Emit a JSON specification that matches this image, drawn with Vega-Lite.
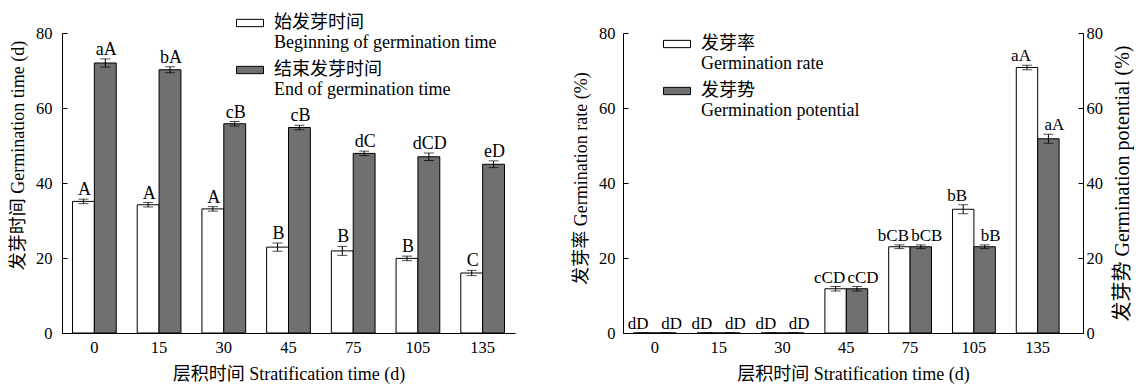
{
  "$schema": "https://vega.github.io/schema/vega-lite/v6.json",
  "background": "white",
  "padding": {"left": 9, "top": 9, "right": 5, "bottom": 4},
  "bounds": "flush",
  "spacing": 108,
  "resolve": {
    "scale": {"x": "independent", "xOffset": "independent", "y": "independent", "color": "independent"},
    "legend": {"color": "independent"}
  },
  "config": {
    "font": "Liberation Serif, Noto Sans CJK SC",
    "view": {"stroke": null},
    "axis": {
      "domainColor": "black", "domainWidth": 1, "tickColor": "black", "tickWidth": 1,
      "labelColor": "black", "titleColor": "black", "labelFontSize": 16.5, "titleFontSize": 18,
      "titleFontWeight": "normal", "grid": false,
      "labelFont": "Liberation Serif, Noto Sans CJK SC", "titleFont": "Liberation Serif, Noto Sans CJK SC"
    },
    "legend": {
      "labelFont": "Liberation Serif, Noto Sans CJK SC", "labelFontSize": 18, "labelColor": "black",
      "symbolType": "M-1,-0.27H1V0.27H-1Z", "symbolSize": 729, "symbolStrokeColor": "black",
      "symbolStrokeWidth": 1, "labelLimit": 400, "padding": 0
    },
    "text": {"font": "Liberation Serif, Noto Sans CJK SC"}
  },
  "hconcat": [
    {
      "width": 453,
      "height": 300,
      "data": {"values": [
        {"t": "0", "s": "Begin", "v": 35.1, "lo": 34.5, "hi": 35.7, "lab": "A"},
        {"t": "0", "s": "End", "v": 72, "lo": 70.9, "hi": 73.1, "lab": "aA"},
        {"t": "15", "s": "Begin", "v": 34.2, "lo": 33.6, "hi": 34.8, "lab": "A"},
        {"t": "15", "s": "End", "v": 70.2, "lo": 69.4, "hi": 71, "lab": "bA"},
        {"t": "30", "s": "Begin", "v": 33.1, "lo": 32.5, "hi": 33.7, "lab": "A"},
        {"t": "30", "s": "End", "v": 55.8, "lo": 55.2, "hi": 56.4, "lab": "cB"},
        {"t": "45", "s": "Begin", "v": 22.9, "lo": 21.8, "hi": 24, "lab": "B"},
        {"t": "45", "s": "End", "v": 54.8, "lo": 54.2, "hi": 55.4, "lab": "cB"},
        {"t": "75", "s": "Begin", "v": 21.9, "lo": 20.7, "hi": 23.1, "lab": "B"},
        {"t": "75", "s": "End", "v": 47.9, "lo": 47.3, "hi": 48.5, "lab": "dC"},
        {"t": "105", "s": "Begin", "v": 19.9, "lo": 19.3, "hi": 20.5, "lab": "B"},
        {"t": "105", "s": "End", "v": 47, "lo": 46, "hi": 48, "lab": "dCD"},
        {"t": "135", "s": "Begin", "v": 16, "lo": 15.3, "hi": 16.7, "lab": "C"},
        {"t": "135", "s": "End", "v": 45, "lo": 44.1, "hi": 45.9, "lab": "eD"}
      ]},
      "encoding": {
        "x": {"field": "t", "type": "nominal", "sort": ["0", "15", "30", "45", "75", "105", "135"],
          "scale": {"paddingInner": 0, "paddingOuter": 0},
          "axis": {"title": "层积时间 Stratification time (d)", "labelAngle": 0, "ticks": false, "labelPadding": 6, "titlePadding": 10}},
        "xOffset": {"field": "s", "type": "nominal", "sort": ["Begin", "End"], "scale": {"paddingInner": 0, "paddingOuter": 0.48}}
      },
      "layer": [
        {
          "mark": {"type": "bar", "stroke": "black", "strokeWidth": 1},
          "encoding": {
            "y": {"field": "v", "type": "quantitative", "scale": {"domain": [0, 80]},
              "axis": {"values": [0, 20, 40, 60, 80], "title": "发芽时间 Germination time (d)", "tickSize": -5, "labelPadding": 15, "titlePadding": 8, "titleY": 122}},
            "color": {"field": "s", "type": "nominal", "scale": {"domain": ["Begin", "End"], "range": ["white", "#707070"]},
              "legend": {"orient": "none", "legendX": 174, "legendY": -24, "title": null, "rowPadding": 4, "labelOffset": 10,
                "labelExpr": "datum.value == 'Begin' ? ['始发芽时间', 'Beginning of germination time'] : ['结束发芽时间', 'End of germination time']",
                "encode": {"labels": {"update": {"lineHeight": {"value": 20}}}}}}
          }
        },
        {
          "mark": {"type": "rule", "color": "black", "strokeWidth": 1},
          "encoding": {"y": {"field": "lo", "type": "quantitative", "title": "发芽时间 Germination time (d)"}, "y2": {"field": "hi"}}
        },
        {
          "mark": {"type": "tick", "color": "black", "size": 10, "thickness": 1},
          "encoding": {"y": {"field": "lo", "type": "quantitative", "title": "发芽时间 Germination time (d)"}}
        },
        {
          "mark": {"type": "tick", "color": "black", "size": 10, "thickness": 1},
          "encoding": {"y": {"field": "hi", "type": "quantitative", "title": "发芽时间 Germination time (d)"}}
        },
        {
          "mark": {"type": "text", "baseline": "alphabetic", "dy": -4, "dx": 1, "fontSize": 18, "color": "black"},
          "encoding": {"y": {"field": "hi", "type": "quantitative", "title": "发芽时间 Germination time (d)"}, "text": {"field": "lab"}}
        }
      ]
    },
    {
      "width": 460,
      "height": 300,
      "data": {"values": [
        {"t": "0", "s": "rate", "v": 0, "lo": 0, "hi": 0, "lab": "dD"},
        {"t": "0", "s": "pot", "v": 0, "lo": 0, "hi": 0, "lab": "dD"},
        {"t": "15", "s": "rate", "v": 0, "lo": 0, "hi": 0, "lab": "dD"},
        {"t": "15", "s": "pot", "v": 0, "lo": 0, "hi": 0, "lab": "dD"},
        {"t": "30", "s": "rate", "v": 0, "lo": 0, "hi": 0, "lab": "dD"},
        {"t": "30", "s": "pot", "v": 0, "lo": 0, "hi": 0, "lab": "dD"},
        {"t": "45", "s": "rate", "v": 11.8, "lo": 11.2, "hi": 12.4, "lab": "cCD"},
        {"t": "45", "s": "pot", "v": 11.8, "lo": 11.2, "hi": 12.4, "lab": "cCD"},
        {"t": "75", "s": "rate", "v": 23, "lo": 22.5, "hi": 23.5, "lab": "bCB"},
        {"t": "75", "s": "pot", "v": 23, "lo": 22.5, "hi": 23.5, "lab": "bCB"},
        {"t": "105", "s": "rate", "v": 33, "lo": 31.8, "hi": 34.2, "lab": "bB"},
        {"t": "105", "s": "pot", "v": 23, "lo": 22.5, "hi": 23.5, "lab": "bB"},
        {"t": "135", "s": "rate", "v": 70.8, "lo": 70.2, "hi": 71.4, "lab": "aA"},
        {"t": "135", "s": "pot", "v": 51.8, "lo": 50.6, "hi": 53, "lab": "aA"}
      ]},
      "encoding": {
        "x": {"field": "t", "type": "nominal", "sort": ["0", "15", "30", "45", "75", "105", "135"],
          "scale": {"paddingInner": 0, "paddingOuter": 0.105, "align": 0},
          "axis": {"title": "层积时间 Stratification time (d)", "labelAngle": 0, "ticks": false, "labelPadding": 6, "titlePadding": 10}},
        "xOffset": {"field": "s", "type": "nominal", "sort": ["rate", "pot"], "scale": {"paddingInner": 0, "paddingOuter": 0.49}}
      },
      "resolve": {"axis": {"y": "independent"}},
      "layer": [
        {
          "mark": {"type": "bar", "stroke": "black", "strokeWidth": 1},
          "encoding": {
            "y": {"field": "v", "type": "quantitative", "scale": {"domain": [0, 80]},
              "axis": {"orient": "left", "values": [0, 20, 40, 60, 80], "title": "发芽率 Germination rate (%)", "tickSize": -5, "labelPadding": 13, "titlePadding": 8, "titleY": 145}},
            "color": {"field": "s", "type": "nominal", "scale": {"domain": ["rate", "pot"], "range": ["white", "#707070"]},
              "legend": {"orient": "none", "legendX": 40, "legendY": -3, "title": null, "rowPadding": 4, "labelOffset": 10,
                "labelExpr": "datum.value == 'rate' ? ['发芽率', 'Germination rate'] : ['发芽势', 'Germination potential']",
                "encode": {"labels": {"update": {"lineHeight": {"value": 20}}}}}}
          }
        },
        {
          "mark": {"type": "rule", "color": "black", "strokeWidth": 1},
          "encoding": {"y": {"field": "lo", "type": "quantitative", "axis": null}, "y2": {"field": "hi"}}
        },
        {
          "mark": {"type": "tick", "color": "black", "size": 10, "thickness": 1},
          "encoding": {"y": {"field": "lo", "type": "quantitative", "axis": null}}
        },
        {
          "mark": {"type": "tick", "color": "black", "size": 10, "thickness": 1},
          "encoding": {"y": {"field": "hi", "type": "quantitative", "axis": null}}
        },
        {
          "transform": [{"filter": "datum.s == 'rate'"}],
          "mark": {"type": "text", "baseline": "alphabetic", "dy": -4, "dx": -6, "fontSize": 17, "color": "black"},
          "encoding": {"y": {"field": "hi", "type": "quantitative", "axis": null}, "text": {"field": "lab"}}
        },
        {
          "transform": [{"filter": "datum.s == 'pot'"}],
          "mark": {"type": "text", "baseline": "alphabetic", "dy": -4, "dx": 6, "fontSize": 17, "color": "black"},
          "encoding": {
            "y": {"field": "hi", "type": "quantitative",
              "axis": {"orient": "right", "values": [0, 20, 40, 60, 80], "title": "发芽势 Germination potential (%)", "titleAngle": 270, "titleFontSize": 20, "tickSize": -5, "labelPadding": 8, "titlePadding": 30}},
            "text": {"field": "lab"}
          }
        }
      ]
    }
  ]
}
